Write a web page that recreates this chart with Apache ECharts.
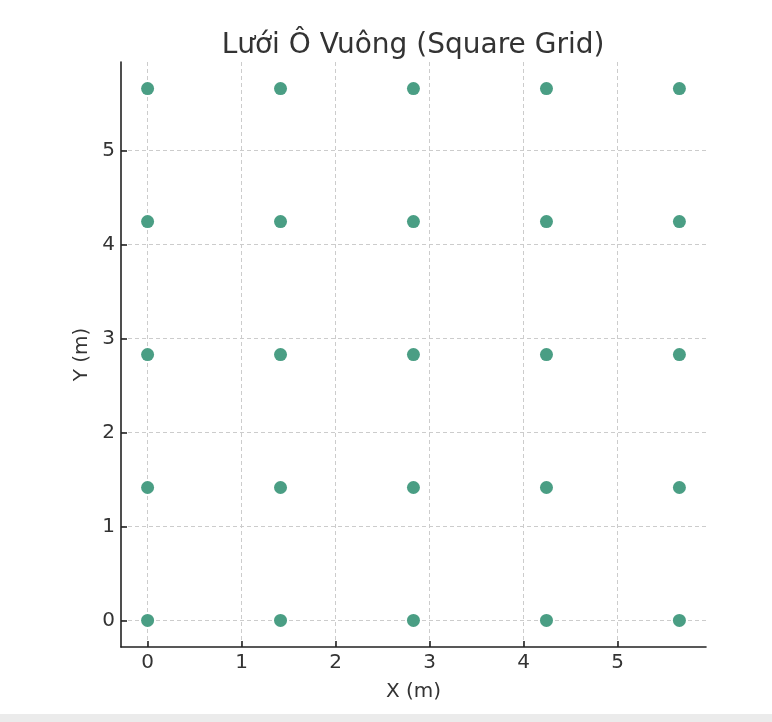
<!DOCTYPE html>
<html><head><meta charset="utf-8">
<script src="https://cdn.jsdelivr.net/npm/echarts@6/dist/echarts.min.js"></script>
<style>html,body{margin:0;padding:0;background:#fff}#c{width:772px;height:722px}</style>
</head><body><div id="c"></div>
<script>
var gridCoords = [0, 1.414, 2.828, 4.243, 5.657];
var tickValues = [0, 1, 2, 3, 4, 5];
var points = [];
gridCoords.forEach(function (y) { gridCoords.forEach(function (x) { points.push([x, y]); }); });
var titleText = 'Lưới Ô Vuông (Square Grid)';
var font = 'DejaVu Sans';
function axis(name, isY) {
  return {
    type: 'value', min: -0.2828, max: 5.94, z: 10,
    name: name, nameLocation: 'middle', nameGap: isY ? 29 : 35,
    nameTextStyle: { fontFamily: font, fontSize: 20, color: '#333' },
    axisLine: { show: true, onZero: false, lineStyle: { color: '#222', width: 1.6 } },
    axisTick: { show: true, inside: true, length: 6, lineStyle: { color: '#222', width: 1.6 }, customValues: tickValues },
    axisLabel: { fontFamily: font, fontSize: 20, color: '#333', margin: 6, customValues: tickValues },
    splitLine: { show: false }
  };
}
var gridLines = tickValues.map(function (v) { return { xAxis: v }; }).concat(tickValues.map(function (v) { return { yAxis: v }; }));
var chart = echarts.init(document.getElementById('c'));
chart.setOption({
  animation: false,
  title: { text: titleText, left: 408, top: 27, textAlign: 'center',
    textStyle: { fontFamily: font, fontSize: 28, fontWeight: 'normal', color: '#333' } },
  grid: { left: 121, right: 66, top: 62, bottom: 75 },
  xAxis: axis('X (m)', false),
  yAxis: axis('Y (m)', true),
  graphic: [{ type: 'rect', shape: { x: 0, y: 714, width: 772, height: 8 }, style: { fill: '#ebebeb' } }],
  series: [{
    type: 'scatter', data: points, symbolSize: 13,
    itemStyle: { color: '#4a9e84', opacity: 1 },
    z: 3,
    markLine: {
      silent: true, symbol: 'none', label: { show: false },
      lineStyle: { color: '#cccccc', type: [4, 3], width: 1 },
      data: gridLines, z: 1
    }
  }]
});
</script></body></html>
